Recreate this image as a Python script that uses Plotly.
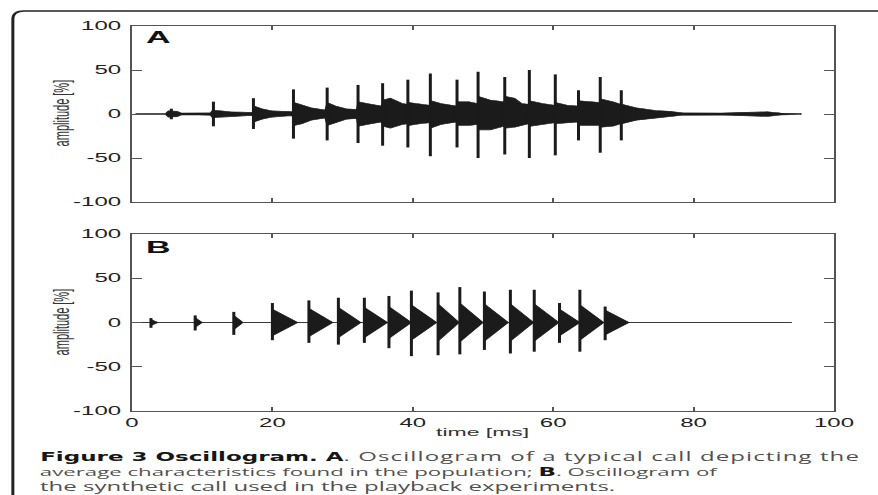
import plotly.graph_objects as go

# ---------------- data ----------------
# Panel A: natural call -- spike times [ms] and peak amplitudes [%]
a_spike_t = [5.6, 11.6, 17.3, 23.0, 27.8, 32.2, 35.7, 39.3, 42.5, 46.3, 49.3,
             53.1, 56.6, 60.3, 63.6, 66.7, 69.7]
a_spike_pos = [6, 14, 18, 28, 30, 33, 35, 39, 46, 39, 48, 42, 50, 45, 27, 42, 27]
a_spike_neg = [-6, -14, -17, -28, -30, -33, -36, -38, -48, -38, -50, -46, -50,
               -47, -30, -44, -30]

# Panel A: envelope of the dense waveform body
a_env_t = [0.5, 4.8, 5.2, 6.4, 7.0, 9.5, 11.2, 11.5, 12.8, 14.0, 16.5, 17.2, 17.4,
           18.5, 20.0, 22.5, 22.9, 23.1, 24.2, 25.5, 27.5, 27.8, 29.0, 30.5, 32.0,
           32.2, 33.5, 35.5, 35.8, 36.8, 38.5, 39.3, 39.5, 41.0, 42.4, 42.6, 44.0,
           46.2, 46.4, 48.0, 49.2, 49.4, 51.0, 53.0, 53.2, 54.5, 55.5, 56.5, 56.7,
           58.5, 60.2, 60.4, 62.0, 63.5, 63.7, 65.5, 66.6, 66.8, 68.5, 69.6, 69.8,
           71.8, 74.6, 76.5, 78.4, 84.0, 87.0, 90.5, 92.4, 95.3]
a_env_hi = [0.6, 0.6, 3.5, 3.0, 1.2, 1.0, 1.5, 4.5, 3.5, 2.5, 1.8, 2.0, 9.0,
            6.0, 3.5, 2.0, 2.5, 13.0, 10.0, 7.0, 4.5, 13.0, 9.0, 6.0, 5.0,
            14.0, 12.0, 9.0, 16.0, 18.0, 12.0, 11.0, 13.0, 11.0, 10.0, 15.0, 12.0,
            9.0, 14.0, 14.0, 12.0, 20.0, 16.0, 14.0, 20.0, 18.0, 12.0, 11.0, 15.0,
            12.0, 10.0, 13.0, 10.0, 9.0, 15.0, 14.0, 13.0, 17.0, 14.0, 11.0, 11.0,
            7.0, 4.0, 3.0, 1.5, 1.0, 2.0, 2.5, 1.2, 0.5]
a_env_lo = [-0.6, -0.6, -3.5, -3.0, -1.2, -1.0, -1.5, -4.5, -3.5, -2.5, -1.8, -2.0, -9.0,
            -6.0, -3.5, -2.0, -2.5, -13.0, -11.0, -7.0, -4.5, -13.0, -10.0, -6.0, -5.0,
            -14.0, -12.0, -9.0, -14.0, -16.0, -12.0, -11.0, -13.0, -11.0, -10.0, -16.0, -12.0,
            -9.0, -13.0, -13.0, -12.0, -18.0, -18.0, -14.0, -16.0, -15.0, -13.0, -11.0, -14.0,
            -12.0, -10.0, -11.0, -10.0, -9.0, -13.0, -13.0, -13.0, -15.0, -14.0, -11.0, -11.0,
            -7.0, -4.0, -3.0, -1.5, -1.0, -2.0, -2.8, -1.2, -0.5]

# Panel B: synthetic call -- pulse onsets, spike peaks, body amplitude and body end
b_pulse_t = [2.7, 9.0, 14.5, 20.0, 25.2, 29.4, 33.1, 36.6, 39.8, 43.6, 46.7,
             50.2, 53.9, 57.3, 60.9, 63.8, 67.4]
b_pulse_pos = [5, 8, 12, 22, 25, 28, 28, 30, 36, 34, 40, 35, 37, 37, 22, 37, 18]
b_pulse_neg = [-6, -9, -14, -20, -23, -25, -23, -29, -38, -37, -36, -31, -35,
               -33, -23, -33, -20]
b_body = [3.5, 5.5, 8, 15, 16, 17, 17, 18, 20, 21, 22, 21, 21, 21, 15, 20, 14]
b_body_end = [3.7, 10.0, 15.8, 23.6, 28.6, 32.6, 36.4, 39.8, 43.4, 46.6, 50.0,
              53.6, 57.2, 60.8, 63.8, 67.2, 70.8]
b_base_t = [0.0, 94.0]
b_base_y = [0.0, 0.0]

x_tick_vals = [0, 20, 40, 60, 80, 100]
x_tick_text = ["0", "20", "40", "60", "80", "100"]
y_tick_vals = [-100, -50, 0, 50, 100]
y_tick_text = ["-100", "-50", "0", "50", "100"]

BOLD = "<span style='color:#161616;font-family:DejaVu Sans;font-size:11.5px'><b>{}</b></span>"
caption_lines = [
    BOLD.format("Figure 3 Oscillogram. A")
    + "<span style='letter-spacing:0.55px'>. Oscillogram of a typical call depicting the</span>",
    "average characteristics found in the population; " + BOLD.format("B") + ". Oscillogram of",
    "the synthetic call used in the playback experiments.",
]
caption_sizes = [12, 11.1, 12]

# ---------------- geometry ----------------
SX = 2.0                       # horizontal stretch of the whole picture
FULL_W, FULL_H = 878, 495
W = FULL_W / SX
ML, MR, MT, MB = 66, 18, 26, 84
PW = W - ML - MR
PH = FULL_H - MT - MB


def px(xf):
    return (xf / SX - ML) / PW


def py(yf):
    return (FULL_H - MB - yf) / PH


INK = "#1b1b1b"

fig = go.Figure()

# ---- panel A ----
env_x = a_env_t + a_env_t[::-1]
env_y = a_env_hi + a_env_lo[::-1]
fig.add_trace(go.Scatter(x=env_x, y=env_y, mode="lines", fill="toself",
                         fillcolor=INK, line=dict(color=INK, width=0.6),
                         xaxis="x", yaxis="y", hoverinfo="skip"))
sx, sy = [], []
for t, p, n in zip(a_spike_t, a_spike_pos, a_spike_neg):
    sx += [t, t, None]
    sy += [n, p, None]
fig.add_trace(go.Scatter(x=sx, y=sy, mode="lines", line=dict(color=INK, width=1.5),
                         xaxis="x", yaxis="y", hoverinfo="skip"))

# ---- panel B ----
fig.add_trace(go.Scatter(x=b_base_t, y=b_base_y, mode="lines",
                         line=dict(color="#3a3a3a", width=1),
                         xaxis="x2", yaxis="y2", hoverinfo="skip"))
bx, by = [], []
for t, b, e in zip(b_pulse_t, b_body, b_body_end):
    bx += [t, e, t, t, None]
    by += [b, 0, -b, b, None]
fig.add_trace(go.Scatter(x=bx, y=by, mode="lines", fill="toself", fillcolor=INK,
                         line=dict(color=INK, width=0.6),
                         xaxis="x2", yaxis="y2", hoverinfo="skip"))
sx, sy = [], []
for t, p, n in zip(b_pulse_t, b_pulse_pos, b_pulse_neg):
    sx += [t, t, None]
    sy += [n, p, None]
fig.add_trace(go.Scatter(x=sx, y=sy, mode="lines", line=dict(color=INK, width=1.5),
                         xaxis="x2", yaxis="y2", hoverinfo="skip"))

tickfont = dict(family="Liberation Sans, Arial, sans-serif", size=12, color="#222222")
axis_common = dict(showline=True, linecolor="#555555", linewidth=1.1, mirror="ticks",
                   ticks="inside", tickcolor="#555555", tickwidth=1, showgrid=False,
                   zeroline=False, tickfont=tickfont, fixedrange=True)

fig.update_layout(
    width=W, height=FULL_H,
    margin=dict(l=ML, r=MR, t=MT, b=MB, pad=0),
    paper_bgcolor="white", plot_bgcolor="white",
    showlegend=False,
    xaxis=dict(domain=[0, 1], anchor="y", range=[0, 100], tickvals=x_tick_vals,
               ticktext=x_tick_text, showticklabels=False, ticklen=4, **axis_common),
    yaxis=dict(domain=[py(202), 1], anchor="x", range=[-100, 100], tickvals=y_tick_vals,
               ticktext=y_tick_text, ticklen=5, ticklabelstandoff=2, **axis_common),
    xaxis2=dict(domain=[0, 1], anchor="y2", range=[0, 100], tickvals=x_tick_vals,
                ticktext=x_tick_text, ticklen=4, ticklabelstandoff=1, **axis_common),
    yaxis2=dict(domain=[0, py(234)], anchor="x2", range=[-100, 100], tickvals=y_tick_vals,
                ticktext=y_tick_text, ticklen=5, ticklabelstandoff=2, **axis_common),
)

ann = []
panel_font = dict(family="Liberation Sans, Arial, sans-serif", size=17, color="#111111")
ann.append(dict(text="<b>A</b>", x=px(142.5), y=py(37), xref="paper", yref="paper",
                xanchor="left", yanchor="middle", showarrow=False, font=panel_font))
ann.append(dict(text="<b>B</b>", x=px(142.5), y=py(247), xref="paper", yref="paper",
                xanchor="left", yanchor="middle", showarrow=False, font=panel_font))
lab_font = dict(family="Liberation Sans, Arial, sans-serif", size=11, color="#333333")
for yc in (113, 322):
    ann.append(dict(text="amplitude [%]", x=px(60), y=py(yc), xref="paper", yref="paper",
                    xanchor="center", yanchor="middle", textangle=-90, showarrow=False,
                    font=lab_font))
ann.append(dict(text="time [ms]", x=px(488), y=py(432), xref="paper", yref="paper",
                xanchor="center", yanchor="middle", showarrow=False,
                font=dict(family="Liberation Sans, Arial, sans-serif", size=11.5,
                          color="#333333")))
for line, yc, fs in zip(caption_lines, (456, 471, 486), caption_sizes):
    ann.append(dict(text=line, x=px(34), y=py(yc), xref="paper", yref="paper",
                    xanchor="left", yanchor="middle", showarrow=False,
                    font=dict(family="Open Sans, sans-serif", size=fs, color="#505050")))
fig.update_layout(annotations=ann)

# outer figure frame (left thick edge, top edge with rounded corner)
frame = ("M {x0},{yb} L {x0},{yc} Q {x0},{yt} {x1},{yt} L {x2},{yt}").format(
    x0=px(11.5), yb=py(505), yc=py(19), yt=py(11), x1=px(23), x2=px(890))
fig.add_shape(type="path", path=frame, xref="paper", yref="paper",
              line=dict(color="#222222", width=1.5), layer="above")

post = ("var gd=document.getElementById('{plot_id}');"
        "gd.style.transform='scaleX(2)';gd.style.transformOrigin='0 0';"
        "document.body.style.margin='0';document.body.style.overflow='hidden';")
fig.write_html("out.html", config={"displayModeBar": False}, post_script=post)
